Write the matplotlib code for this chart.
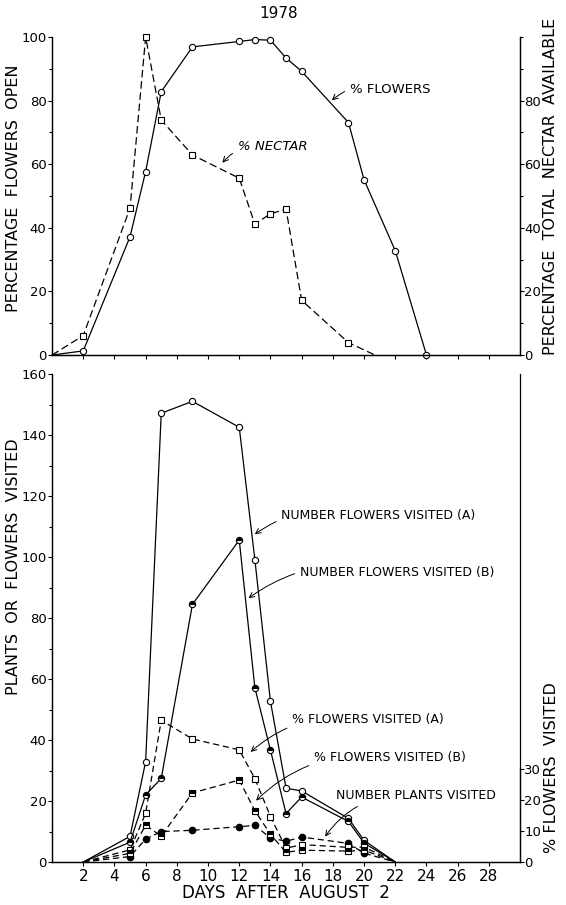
import matplotlib
matplotlib.use('Agg')
import matplotlib.pyplot as plt

# top panel: % flowers open and % nectar (1978)
flower_days = [0, 2, 5, 6, 7, 9, 12, 13, 14, 15, 16, 19, 20, 22, 24]
flower_pct = [0, 1.3, 37.2, 57.7, 82.8, 96.9, 98.6, 99.2, 99.0, 93.4, 89.2, 73.1, 55.1, 32.8, 0]
nectar_days = [0, 2, 5, 6, 7, 9, 12, 13, 14, 15, 16, 19, 20.7]
nectar_pct = [0, 6.1, 46.2, 100, 73.9, 62.9, 55.6, 41.2, 44.4, 45.9, 17.2, 3.9, 0]

# bottom panel: visits
visit_days = [2, 5, 6, 7, 9, 12, 13, 14, 15, 16, 19, 20, 22]
flowers_a = [0, 8.4, 32.9, 147.2, 151.1, 142.6, 99.2, 52.7, 24.2, 23.3, 14.3, 7.1, 0]
flowers_b = [0, 6.5, 22.0, 27.4, 84.5, 105.6, 57.2, 36.7, 15.9, 21.3, 13.3, 6.2, 0]
pct_a = [0, 3.9, 15.6, 45.5, 39.5, 36.0, 26.8, 14.6, 4.4, 5.6, 4.7, 4.8, 0]
pct_b = [0, 2.8, 11.8, 8.3, 22.2, 26.3, 16.5, 8.9, 3.1, 3.8, 3.5, 3.8, 0]
plants = [0, 1.8, 7.5, 10.0, 10.4, 11.6, 12.0, 7.9, 6.8, 8.2, 6.1, 2.9, 0]

day_ticks = list(range(2, 30, 2))

plt.rcParams['font.family'] = 'DejaVu Sans'
fig = plt.figure(figsize=(5.66, 9.05), dpi=100)

lw = 0.9
ms = 4.5
tick_fs = 9.5

# ---- top panel
ax1 = fig.add_axes([0.0919, 0.6077, 0.827, 0.3514])
ax1.plot(flower_days, flower_pct, '-', color='k', lw=lw, marker='o', ms=ms,
         mfc='white', mec='k', mew=0.8, markevery=slice(1, None), clip_on=False)
ax1.plot(nectar_days, nectar_pct, color='k', lw=lw, dashes=(6, 3), marker='s', ms=ms - 0.5,
         mfc='white', mec='k', mew=0.8, markevery=slice(1, len(nectar_days) - 1), clip_on=False)
ax1.set_xlim(0, 30)
ax1.set_ylim(0, 100)
ax1.spines['top'].set_visible(False)
ax1.set_xticks(day_ticks)
ax1.set_xticklabels([])
ax1.set_yticks(range(0, 101, 20))
ax1.set_yticks(range(0, 101, 10), minor=True)
ax1.tick_params(axis='both', which='both', direction='out', length=3, width=0.8, labelsize=tick_fs, pad=1)
ax1.tick_params(axis='y', which='minor', length=2)

ax1r = ax1.twinx()
ax1r.set_ylim(0, 100)
ax1r.spines['top'].set_visible(False)
ax1r.set_yticks([0, 20, 40, 60, 80])
ax1r.set_yticks(range(0, 101, 10), minor=True)
ax1r.tick_params(axis='y', which='both', direction='out', length=3, width=0.8, labelsize=tick_fs, pad=0)
ax1r.tick_params(axis='y', which='minor', length=2)

for a in (ax1, ax1r):
    for s in a.spines.values():
        s.set_linewidth(0.9)

ax1.annotate('% FLOWERS', xy=(17.8, 79.5), xytext=(19.1, 83.5), fontsize=9.5, va='center',
             arrowprops=dict(arrowstyle='->', color='k', lw=0.7, connectionstyle='arc3,rad=0.3'))
ax1.annotate('% NECTAR', xy=(10.8, 59.8), xytext=(11.9, 65.7), fontsize=9.5, va='center',
             fontstyle='italic',
             arrowprops=dict(arrowstyle='->', color='k', lw=0.7, connectionstyle='arc3,rad=0.3'))

fig.text(0.492, 0.985, '1978', ha='center', va='center', fontsize=11)
fig.text(0.023, 0.792, 'PERCENTAGE  FLOWERS  OPEN', rotation=90, ha='center', va='center', fontsize=11.5)
fig.text(0.972, 0.794, 'PERCENTAGE  TOTAL  NECTAR  AVAILABLE', rotation=90, ha='center', va='center',
         fontsize=11.5)

# ---- bottom panel
ax2 = fig.add_axes([0.0919, 0.0475, 0.827, 0.539])
ax2.plot(visit_days, flowers_a, '-', color='k', lw=lw, marker='o', ms=ms, mfc='white', mec='k',
         mew=0.8, markevery=slice(1, len(visit_days) - 1))
ax2.plot(visit_days, flowers_b, '-', color='k', lw=lw, marker='o', ms=ms, mfc='k', mec='k',
         fillstyle='top', markerfacecoloralt='white', mew=0.8, markevery=slice(1, len(visit_days) - 1))
ax2.plot(visit_days, plants, color='k', lw=lw, dashes=(5, 3), marker='o', ms=ms, mfc='k', mec='k',
         markevery=slice(1, len(visit_days) - 1))
ax2.set_xlim(0, 30)
ax2.set_ylim(0, 160)
ax2.spines['top'].set_visible(False)
ax2.set_xticks(day_ticks)
ax2.set_yticks(range(0, 161, 20))
ax2.set_yticks(range(0, 161, 10), minor=True)
ax2.tick_params(axis='both', which='both', direction='out', length=3, width=0.8, labelsize=tick_fs, pad=1)
ax2.tick_params(axis='x', labelsize=11, pad=2)
ax2.tick_params(axis='y', which='minor', length=2)

ax2r = ax2.twinx()
ax2r.plot(visit_days, pct_a, color='k', lw=lw, dashes=(5, 3), marker='s', ms=ms - 0.5, mfc='white',
          mec='k', mew=0.8, markevery=slice(1, len(visit_days) - 1))
ax2r.plot(visit_days, pct_b, color='k', lw=lw, dashes=(5, 3), marker='s', ms=ms - 0.5, mfc='k',
          fillstyle='top', markerfacecoloralt='white', mec='k', mew=0.8,
          markevery=slice(1, len(visit_days) - 1))
ax2r.set_ylim(0, 156.6)
ax2r.spines['top'].set_visible(False)
ax2r.spines['right'].set_bounds(0, 30)
ax2r.set_yticks([0, 10, 20, 30])
ax2r.tick_params(axis='y', direction='out', length=3, width=0.8, labelsize=tick_fs, pad=0)

for a in (ax2, ax2r):
    for s in a.spines.values():
        s.set_linewidth(0.9)

arrow = dict(arrowstyle='->', color='k', lw=0.7, connectionstyle='arc3,rad=0.25')
ax2.annotate('NUMBER FLOWERS VISITED (A)', xy=(12.85, 107), xytext=(14.7, 113.7), fontsize=9,
             va='center', arrowprops=arrow)
ax2.annotate('NUMBER FLOWERS VISITED (B)', xy=(12.45, 86), xytext=(15.9, 94.8), fontsize=9,
             va='center', arrowprops=arrow)
ax2.annotate('% FLOWERS VISITED (A)', xy=(12.6, 35.5), xytext=(15.4, 46.6), fontsize=9,
             va='center', arrowprops=arrow)
ax2.annotate('% FLOWERS VISITED (B)', xy=(12.95, 19.5), xytext=(16.8, 34.4), fontsize=9,
             va='center', arrowprops=arrow)
ax2.annotate('NUMBER PLANTS VISITED', xy=(17.4, 7.6), xytext=(18.2, 21.7), fontsize=9,
             va='center', arrowprops=dict(arrowstyle='->', color='k', lw=0.7,
                                          connectionstyle='arc3,rad=0.3'))

fig.text(0.505, 0.013, 'DAYS  AFTER  AUGUST  2', ha='center', va='center', fontsize=12)
fig.text(0.023, 0.3735, 'PLANTS  OR  FLOWERS  VISITED', rotation=90, ha='center', va='center',
         fontsize=11.5)
fig.text(0.975, 0.152, '% FLOWERS  VISITED', rotation=90, ha='center', va='center', fontsize=11.5)

fig.savefig('out.png', dpi=100)
